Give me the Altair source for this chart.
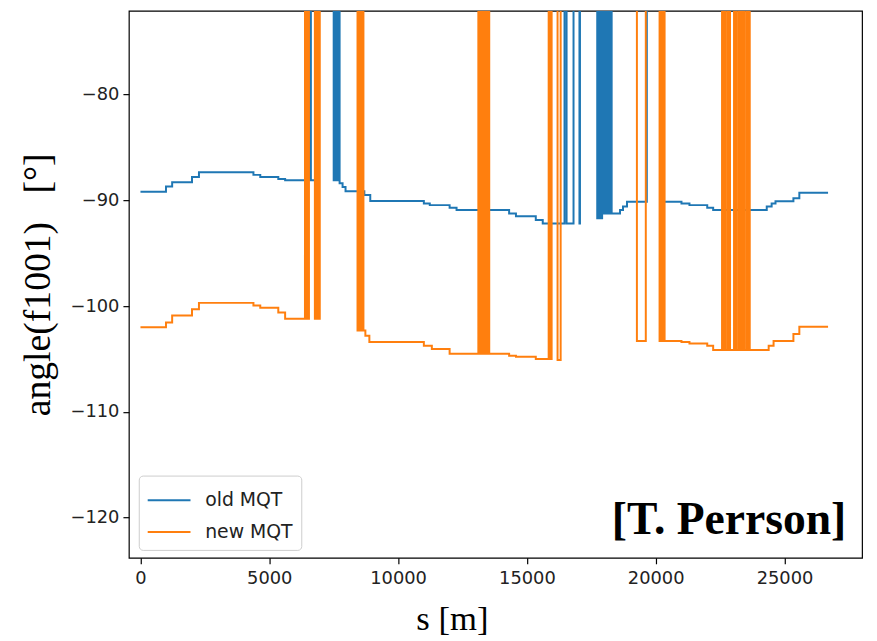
import altair as alt
import pandas as pd

WRAP = 90.0  # phase wrapped far above the visible range (clipped)

series_names = ["old MQT", "new MQT"]
series_colors = ["#1f77b4", "#ff7f0e"]
x_ticks = [0, 5000, 10000, 15000, 20000, 25000]
y_ticks = [-120, -110, -100, -90, -80]

old_s = [0, 990, 1230, 2000, 2270, 4385, 4650, 5350, 5615,
         6540, 6615, 6925,
         7500, 7540, 7580, 7615, 7655, 7690,
         7730, 7845, 7960, 8690, 8920, 11000, 11230, 12000, 12270,
         14310, 14575, 15345, 15615,
         16460, 16540, 16810, 17040, 17060,
         17730, 17770, 17810, 17845, 17885, 17920, 17960, 18000,
         18040, 18075, 18115, 18150, 18190, 18230, 18290,
         18615, 18730, 18885, 19655, 20270,
         21000, 21310, 22000, 22230, 24310, 24500, 24650, 25345, 25575, 26690]
old_v = [-89.2, -88.7, -88.3, -87.8, -87.35, -87.6, -87.8, -88.0, -88.1,
         WRAP, -88.1, WRAP,
         -88.1, WRAP, -88.1, WRAP, -88.1, WRAP,
         -88.4, -88.75, -89.15, -89.5, -90.06, -90.3, -90.46, -90.7, -90.93,
         -91.25, -91.5, -91.87, -92.2,
         WRAP, -92.2, WRAP, -92.2, WRAP,
         -91.7, WRAP, -91.7, WRAP, -91.7, WRAP, -91.25, WRAP,
         -91.25, WRAP, -91.25, WRAP, -91.25, WRAP, -91.25,
         -90.93, -90.6, -90.15, WRAP, -90.15,
         -90.3, -90.46, -90.7, -90.93, -90.6, -90.3, -90.1, -89.8, -89.3, -89.3]

new_s = [0, 990, 1230, 2000, 2270, 4385, 4650, 5350, 5615,
         6385, 6425, 6460, 6500, 6540,
         6770, 6810, 6845, 6885, 6925, 6960,
         8425, 8460, 8500, 8540, 8575, 8615, 8655,
         8730, 8885, 11000, 11310, 12000,
         13115, 13153, 13192, 13230, 13269, 13307, 13346, 13384, 13423, 13461, 13500, 13538,
         14310, 14575, 15345,
         15845, 15920, 15960, 16190, 16310,
         19270, 19615,
         20150, 20210, 20270, 20310, 20345,
         21000, 21310, 22000, 22230,
         22575, 22615, 22650, 22690, 22770, 22810, 22845, 22885,
         23040, 23075, 23115, 23150, 23230, 23270, 23345, 23385, 23425, 23460, 23540, 23580, 23615, 23650,
         24385, 24575, 25345, 25575, 26690]
new_v = [-102.0, -101.56, -100.9, -100.3, -99.7, -99.95, -100.16, -100.6, -101.2,
         WRAP, -101.2, WRAP, -101.2, WRAP,
         -101.2, WRAP, -101.2, WRAP, -101.2, WRAP,
         -102.3, WRAP, -102.3, WRAP, -102.3, WRAP, -102.3,
         -102.8, -103.4, -103.75, -104.06, -104.5,
         WRAP, -104.5, WRAP, -104.5, WRAP, -104.5, WRAP, -104.5, WRAP, -104.5, WRAP, -104.5,
         -104.7, -104.8, -105.0,
         WRAP, -105.0, WRAP, -105.1, WRAP,
         -103.3, WRAP,
         -103.3, WRAP, -103.3, WRAP, -103.3,
         -103.4, -103.55, -103.75, -104.15,
         WRAP, -104.15, WRAP, -104.15, WRAP, -104.15, WRAP, -104.15,
         WRAP, -104.15, WRAP, -104.15, WRAP, -104.15, WRAP, -104.15, WRAP, -104.15, WRAP, -104.15, WRAP, -104.15,
         -103.75, -103.3, -102.65, -101.96, -101.96]

credit = ["[T. Perrson]"]
y_title = "angle(f1001)\u00a0\u00a0\u00a0[°]"

df_old = pd.DataFrame({"s": old_s, "angle": old_v, "series": series_names[0],
                       "idx": list(range(len(old_s)))})
df_new = pd.DataFrame({"s": new_s, "angle": new_v, "series": series_names[1],
                       "idx": list(range(len(new_s)))})

x_enc = alt.X("s:Q",
              scale=alt.Scale(domain=[-450, 28010], nice=False, zero=False),
              axis=alt.Axis(values=x_ticks, title="s [m]", format="d",
                            labelPadding=6, labelFlush=False,
                            titleX=326, titleY=72, titleAlign="center",
                            titleBaseline="alphabetic"))
y_enc = alt.Y("angle:Q",
              scale=alt.Scale(domain=[-123.8, -72.1], nice=False, zero=False),
              axis=alt.Axis(values=y_ticks, title=y_title,
                            labelPadding=4, titleX=-80, titleY=276,
                            titleAngle=270, titleAlign="center",
                            titleBaseline="alphabetic", titleFontSize=38))
color_enc = alt.Color("series:N",
                      scale=alt.Scale(domain=series_names, range=series_colors),
                      legend=alt.Legend(orient="none", legendX=10, legendY=469,
                                        title=None, direction="vertical",
                                        fillColor="white", strokeColor="#cccccc",
                                        cornerRadius=4, padding=8,
                                        labelFont="DejaVu Sans", labelFontSize=19,
                                        labelColor="#222222",
                                        symbolType="M-1,0L1.7,0",
                                        symbolSize=1024, symbolStrokeWidth=2,
                                        labelOffset=25, rowPadding=5))

line_old = alt.Chart(df_old).mark_line(interpolate="step-after", clip=True, strokeWidth=2).encode(
    x=x_enc, y=y_enc, color=color_enc, order="idx:Q")
line_new = alt.Chart(df_new).mark_line(interpolate="step-after", clip=True, strokeWidth=2).encode(
    x=x_enc, y=y_enc, color=color_enc, order="idx:Q")

label = alt.Chart(pd.DataFrame({"label": credit})).mark_text(
    font="Liberation Serif", fontSize=46, fontWeight="bold", color="black",
    align="right", baseline="alphabetic").encode(
    x=alt.value(724), y=alt.value(528), text="label:N")

chart = alt.layer(line_old, line_new, label).properties(
    width=740, height=552, autosize="none",
    padding={"left": 122, "top": 0, "right": 7, "bottom": 80},
).configure_view(stroke="black", strokeWidth=1.2).configure_axis(
    grid=False, domain=False, tickColor="black", tickSize=6, tickWidth=1.2,
    labelFont="DejaVu Sans", labelFontSize=18, labelColor="#222222",
    titleFont="Liberation Serif", titleFontSize=35, titleFontWeight="normal",
    titleColor="black")

chart.save("out.html", embed_options={"renderer": "svg", "actions": False})
